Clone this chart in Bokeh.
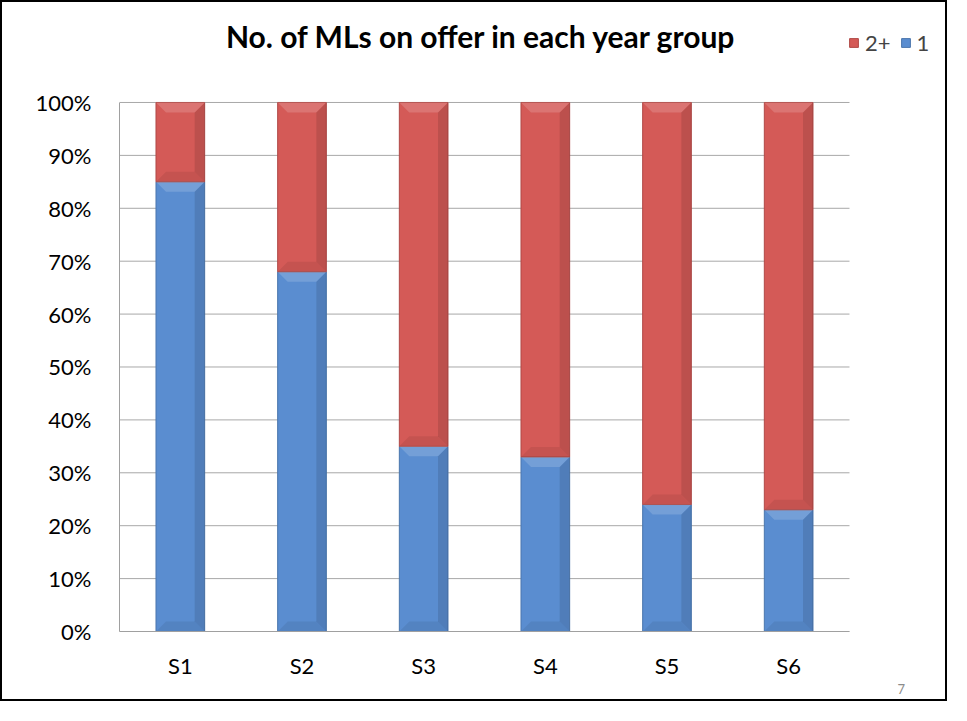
from bokeh.plotting import figure
from bokeh.models import (ColumnDataSource, NumeralTickFormatter, Legend, LegendItem,
                          Label, FixedTicker, Range1d, Title)
from bokeh.embed import file_html
from bokeh.resources import INLINE

groups = ["S1", "S2", "S3", "S4", "S5", "S6"]
one = [0.85, 0.68, 0.35, 0.33, 0.24, 0.23]
two_plus = [0.15, 0.32, 0.65, 0.67, 0.76, 0.77]
y_ticks = [0, 0.1, 0.2, 0.3, 0.4, 0.5, 0.6, 0.7, 0.8, 0.9, 1.0]
title_text = "No. of MLs on offer in each year group"
page_no = "7"

BLUE = "#5a8dd0"
BLUE_EDGE = "#4a76ad"
RED = "#d45a57"
RED_EDGE = "#b04946"
GRID = "#a8a8a8"
FONT = "Lato"

n = len(groups)
BAR_W = 0.4
xpos = [i + 0.5 for i in range(n)]          # category centres on a numeric scale
src = ColumnDataSource(dict(x=xpos, one=one, two=two_plus))

p = figure(x_range=Range1d(0, 6.822), y_range=Range1d(0, 1.189),
           width=947, height=701,
           output_backend="svg", toolbar_location=None,
           min_border_left=117, min_border_right=0,
           min_border_top=0, min_border_bottom=72)
p.styles = {"border": "2px solid black"}

# gridlines only across the category area
p.segment(x0=0, x1=n, y0=y_ticks, y1=y_ticks, line_color=GRID, line_width=1)

rs = p.vbar_stack(["one", "two"], x="x", width=BAR_W, source=src,
                  fill_color=[BLUE, RED], line_color=[BLUE_EDGE, RED_EDGE],
                  line_width=1)

# bevel shading of every bar segment (derived from the stacked values)
dx = 10 / 121.67
dy = 10 / 529.0
top_xs, top_ys, bot_xs, bot_ys, rt_xs, rt_ys = [], [], [], [], [], []
for xc, a, b in zip(xpos, one, two_plus):
    L, R = xc - BAR_W / 2, xc + BAR_W / 2
    for lo, hi in ((0.0, a), (a, a + b)):
        top_xs.append([L, R, R - dx, L + dx]); top_ys.append([hi, hi, hi - dy, hi - dy])
        bot_xs.append([L, R, R - dx, L + dx]); bot_ys.append([lo, lo, lo + dy, lo + dy])
        rt_xs.append([R, R, R - dx, R - dx]); rt_ys.append([hi, lo, lo + dy, hi - dy])
p.patches(rt_xs, rt_ys, fill_color="black", fill_alpha=0.11, line_color=None)
p.patches(bot_xs, bot_ys, fill_color="black", fill_alpha=0.07, line_color=None)
p.patches(top_xs, top_ys, fill_color="white", fill_alpha=0.16, line_color=None)

p.xgrid.grid_line_color = None
p.ygrid.grid_line_color = None
p.outline_line_color = None

p.yaxis.ticker = FixedTicker(ticks=y_ticks)
p.yaxis.formatter = NumeralTickFormatter(format="0%")
p.yaxis.bounds = (0, 1)
p.xaxis.ticker = FixedTicker(ticks=xpos)
p.xaxis.major_label_overrides = {x: g for x, g in zip(xpos, groups)}
p.xaxis.bounds = (0, n)
for ax in (p.xaxis, p.yaxis):
    ax.major_label_text_font = FONT
    ax.major_label_text_font_size = "22px"
    ax.major_label_text_color = "#000000"
    ax.major_tick_line_color = None
    ax.minor_tick_line_color = None
    ax.axis_line_color = "#a0a0a0"
p.xaxis.major_label_standoff = 14
p.yaxis.major_label_standoff = 22

# chart title
p.add_layout(Label(x=2.975, y=1.125, text=title_text, text_font=FONT,
                   text_font_size="30px", text_font_style="bold",
                   text_color="#000000", text_align="center",
                   text_baseline="middle"))

legend = Legend(items=[LegendItem(label="2+", renderers=[rs[1]]),
                       LegendItem(label="1", renderers=[rs[0]])],
                orientation="horizontal", location=(729, 575))
legend.label_text_font = FONT
legend.label_text_font_size = "22px"
legend.glyph_width = 11
legend.glyph_height = 11
legend.label_standoff = 6
legend.spacing = 9
legend.padding = 0
legend.margin = 0
legend.border_line_color = None
legend.background_fill_alpha = 0
p.add_layout(legend, "center")

# slide page number
pn = Title(text=page_no, align="left", offset=778, text_font=FONT,
           text_font_size="13px", text_font_style="normal",
           text_color="#8c8c8c", standoff=0)
p.add_layout(pn, "below")

open("out.html", "w").write(file_html(p, INLINE))
